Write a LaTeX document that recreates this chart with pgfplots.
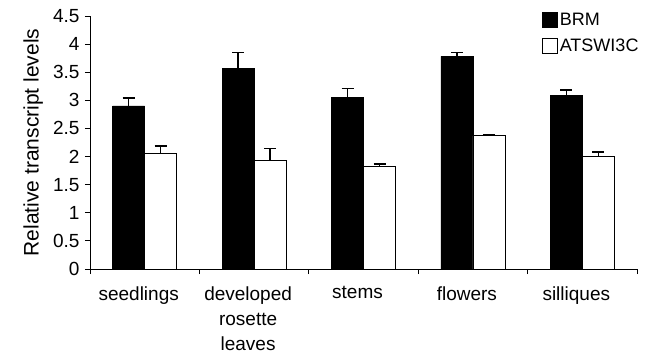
\documentclass[border=0pt]{standalone}
\usepackage{pgfplots}
\pgfplotsset{compat=1.18}
\usepackage{fontspec}
\setmainfont{Liberation Sans}
\begin{document}
\begin{tikzpicture}
\begin{axis}[
  scale only axis,
  width=547bp, height=253bp,
  xmin=-0.5, xmax=4.5,
  ymin=0, ymax=4.5,
  axis x line=bottom, axis y line=left,
  axis line style={-, line width=0.8bp},
  ybar=0pt, bar width=32bp,
  ytick={0,0.5,...,4.5},
  yticklabels={0,0.5,1,1.5,2,2.5,3,3.5,4,4.5},
  xtick={0,1,2,3,4},
  xticklabels={seedlings,{developed\\rosette\\leaves},stems,flowers,silliques},
  minor xtick={-0.5,0.5,1.5,2.5,3.5,4.5},
  major x tick style={draw=none},
  minor tick length=5bp,
  major tick length=5bp,
  tick align=outside,
  tick style={line width=0.8bp, black},
  /pgf/number format/assume math mode=true,
  yticklabel style={font=\fontsize{19bp}{21bp}\selectfont, xshift=-2bp},
  xticklabel style={align=center, text width=120bp, yshift=-9bp, xshift=-6bp, font=\fontsize{19bp}{25bp}\selectfont},
  ylabel={Relative transcript levels},
  ylabel style={at={(axis description cs:-0.104,0.5)}, anchor=center, font=\fontsize{21bp}{24bp}\selectfont},
  legend style={draw=none, fill=none, at={(0.826,1.02)}, anchor=north west, font=\fontsize{18bp}{20bp}\selectfont, row sep=8bp, inner sep=0pt},
  legend cell align=left,
  legend image code/.code={\draw[#1, line width=0.8bp] (0bp,-7.5bp) rectangle (15bp,7.5bp);},
  error bars/y dir=plus, error bars/y explicit,
  error bars/error bar style={line width=1.6bp, black},
  error bars/error mark options={line width=1.6bp, black, mark size=6bp, rotate=90},
]
\addplot[fill=black, draw=black, line width=0.8bp] coordinates {
  (0,2.90) +- (0,0.14)
  (1,3.57) +- (0,0.28)
  (2,3.05) +- (0,0.16)
  (3,3.78) +- (0,0.07)
  (4,3.08) +- (0,0.10)
};
\addplot[fill=white, draw=black, line width=0.8bp] coordinates {
  (0,2.05) +- (0,0.14)
  (1,1.93) +- (0,0.21)
  (2,1.82) +- (0,0.05)
  (3,2.37) +- (0,0.02)
  (4,2.00) +- (0,0.08)
};
\legend{BRM,ATSWI3C}
\end{axis}
\path (current axis.south west) ++(-90bp,-91bp) rectangle ++(647bp,360bp);
\end{tikzpicture}
\end{document}
